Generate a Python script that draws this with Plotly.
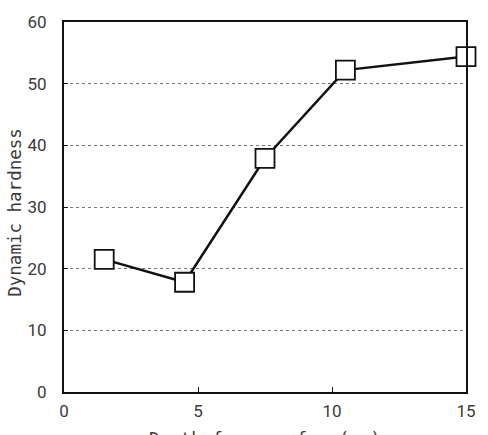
import plotly.graph_objects as go

depth_cm = [1.5, 4.5, 7.5, 10.5, 15.0]
dynamic_hardness = [21.5, 17.8, 37.9, 52.2, 54.4]
x_ticks = [0, 5, 10, 15]
y_ticks = [0, 10, 20, 30, 40, 50, 60]

FONT = "DejaVu Sans Mono, Liberation Mono, monospace"
TICKFONT = "Roboto, Liberation Sans, sans-serif"
TXT = "#3a3a3a"

fig = go.Figure()
fig.add_trace(go.Scatter(
    x=depth_cm, y=dynamic_hardness, mode="lines+markers",
    line=dict(color="#111111", width=2.5),
    marker=dict(symbol="square", size=19, color="white",
                line=dict(color="#111111", width=1.8)),
    cliponaxis=False, showlegend=False,
))

fig.update_layout(
    width=488, height=435,
    margin=dict(l=64, r=13, t=20, b=43),
    paper_bgcolor="white", plot_bgcolor="white",
    font=dict(family=FONT, color=TXT, size=15),
    xaxis=dict(range=[0, 15], tickvals=x_ticks, ticks="inside", ticklen=5,
               tickcolor="#111111", showgrid=False, zeroline=False,
               showline=True, linecolor="#111111", linewidth=2, mirror=True,
               tickfont=dict(size=17, color=TXT, family=TICKFONT),
               ticklabelstandoff=3),
    yaxis=dict(range=[0, 60], tickvals=y_ticks, ticks="inside", ticklen=4,
               tickcolor="#111111", showgrid=True, gridcolor="#777777",
               griddash="dot", gridwidth=1, zeroline=False,
               showline=True, linecolor="#111111", linewidth=2, mirror=True,
               tickfont=dict(size=17, color=TXT, family=TICKFONT),
               ticklabelstandoff=12),
    annotations=[
        dict(text="Dynamic hardness", xref="paper", yref="paper",
             x=-0.122, y=0.487, textangle=-90, showarrow=False,
             xanchor="center", yanchor="middle",
             font=dict(size=17.5, color=TXT, family=FONT)),
        dict(text="Depth from surface(cm)", xref="paper", yref="paper",
             x=0.5, y=-0.094, showarrow=False, xanchor="center", yanchor="top",
             font=dict(size=17.5, color=TXT, family=FONT)),
    ],
)

fig.write_html("out.html")
